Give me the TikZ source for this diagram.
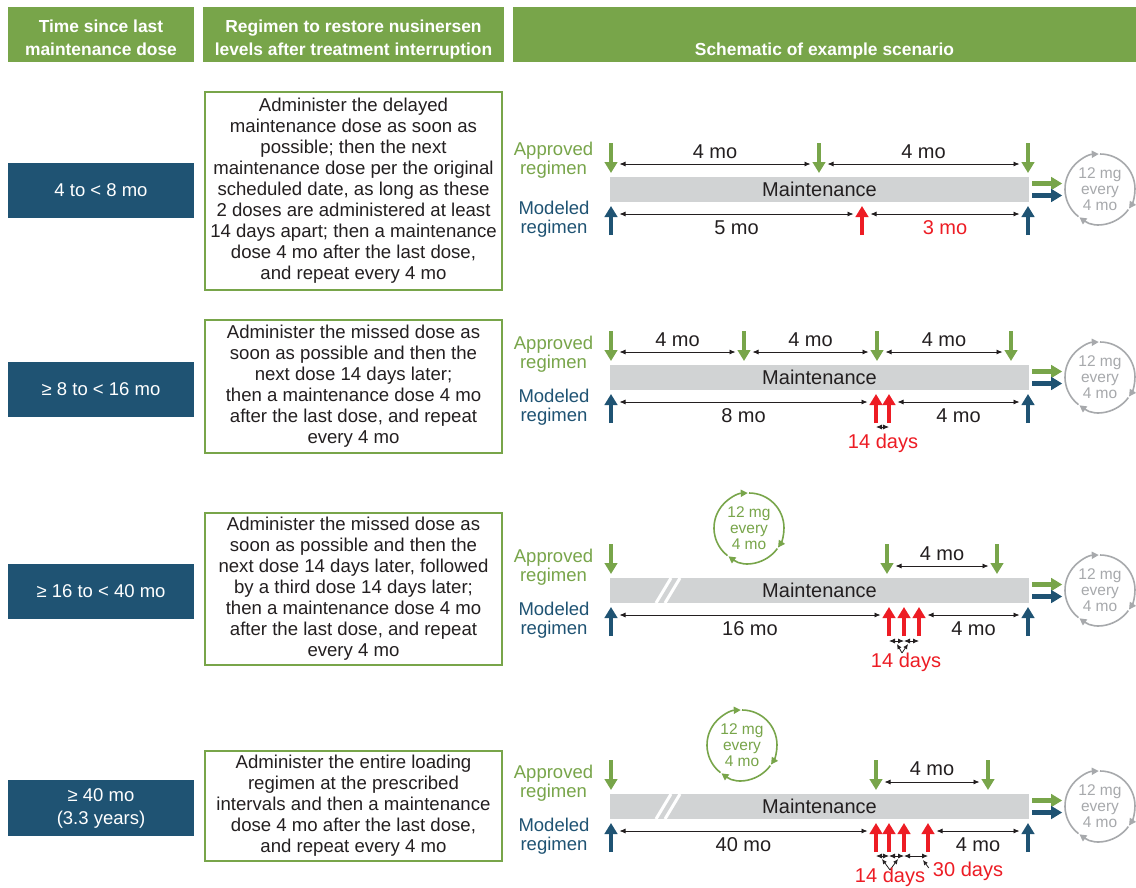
\documentclass[tikz,border=0pt]{standalone}
\usepackage{fontspec}
\setmainfont{Liberation Sans}
\usetikzlibrary{arrows.meta, positioning}
\definecolor{hdgreen}{HTML}{78A54A}
\definecolor{tblue}{HTML}{1F5373}
\definecolor{bargray}{HTML}{D1D3D4}
\definecolor{dosered}{HTML}{ED1C24}
\definecolor{cycgray}{HTML}{A7A9AC}
\definecolor{inkblack}{HTML}{231F20}

\tikzset{
  pics/cycle/.style={code={
    \begin{scope}[y=1pt, line width=1.6pt, color=#1, -{Triangle[length=7pt,width=7pt]}]
      \draw (232:35) arc[start angle=232, end angle=92, radius=35];
      \draw (90:35) arc[start angle=90, end angle=-34, radius=35];
      \draw (-36:35) arc[start angle=-36, end angle=-126, radius=35];
    \end{scope}
    \node[cyctext, text=#1] (-txt) {12 mg\\every\\4 mo};
  }}
}

\begin{document}
\begin{tikzpicture}[x=1pt, y=-1pt,
  head/.style={fill=hdgreen, text=white, font=\fontsize{17.4}{23}\selectfont\bfseries, align=center, inner sep=0pt, minimum height=55pt, text height=41pt, text depth=0pt},
  timebox/.style={fill=tblue, text=white, font=\fontsize{18.5}{23}\selectfont, align=center, minimum width=186pt, minimum height=55pt, inner sep=0pt},
  stepbox/.style={draw=hdgreen, line width=2.2pt, fill=white, text=inkblack, font=\fontsize{18.6}{21}\selectfont, align=center, minimum width=297pt, inner sep=0pt},
  bar/.style={fill=bargray, text=inkblack, font=\fontsize{20}{24}\selectfont, minimum width=419pt, minimum height=25pt, inner sep=0pt},
  regtext/.style={font=\fontsize{18.5}{19}\selectfont, align=center, inner sep=0pt},
  dose/.style={line width=4.5pt, -{Triangle[length=11pt,width=12.5pt]}},
  dim/.style={draw=inkblack, line width=0.8pt, <->, >={Latex[length=6pt,width=5pt]}, shorten <=8.5pt, shorten >=8.5pt},
  gap/.style={dim, shorten <=0pt, shorten >=0pt},
  point/.style={draw=inkblack, line width=0.8pt, ->, >={Latex[length=5pt,width=4.5pt]}},
  lab/.style={font=\fontsize{20}{24}\selectfont, text=inkblack, inner sep=0pt},
  cyctext/.style={font=\fontsize{15.5}{16.3}\selectfont, align=center, inner sep=0pt}
]
\useasboundingbox[fill=white] (0,0) rectangle (1136,887);

% column heads
\node[head, minimum width=186pt] (h1) at (101,34.5) {Time since last\\maintenance dose};
\node[head, minimum width=301pt] (h2) at (353.5,34.5) {Regimen to restore nusinersen\\levels after treatment interruption};
\node[head, minimum width=623pt] (h3) at (824.5,34.5) {\vphantom{Ty}\\Schematic of example scenario};

% time since last dose
\node[timebox] (t1) at (101,190.5) {4 to < 8 mo};
\node[timebox] (t2) at (101,389) {≥ 8 to < 16 mo};
\node[timebox] (t3) at (101,591.5) {≥ 16 to < 40 mo};
\node[timebox, minimum height=56pt] (t4) at (101,808) {≥ 40 mo\\(3.3 years)};

% regimens
\node[stepbox, minimum height=198pt] (s1) at (353.5,191) {Administer the delayed\\maintenance dose as soon as\\possible; then the next\\maintenance dose per the original\\scheduled date, as long as these\\2 doses are administered at least\\14 days apart; then a maintenance\\dose 4 mo after the last dose,\\and repeat every 4 mo};
\node[stepbox, minimum height=133pt] (s2) at (353.5,386.5) {Administer the missed dose as\\soon as possible and then the\\next dose 14 days later;\\then a maintenance dose 4 mo\\after the last dose, and repeat\\every 4 mo};
\node[stepbox, minimum height=152pt] (s3) at (353.5,589) {Administer the missed dose as\\soon as possible and then the\\next dose 14 days later, followed\\by a third dose 14 days later;\\then a maintenance dose 4 mo\\after the last dose, and repeat\\every 4 mo};
\node[stepbox, minimum height=110pt] (s4) at (353.5,806) {Administer the entire loading\\regimen at the prescribed\\intervals and then a maintenance\\dose 4 mo after the last dose,\\and repeat every 4 mo};

% scenario 1
\begin{scope}[shift={(0,177)}]
  \node[regtext, text=hdgreen] (ap1) at (553.5,-17) {Approved\\regimen};
  \node[regtext, text=tblue] (mo1) at (554,42) {Modeled\\regimen};
  \node[bar] (bar1) at (819.5,12.5) {Maintenance};
  \foreach \x [count=\i] in {611,819,1028} {
    \draw[dose, hdgreen] (\x,-34) -- (\x,-4);
    \coordinate (ua\i) at (\x,-13);
  }
  \draw[dim] (ua1) -- node[lab, yshift=12pt] (la1) {4 mo} (ua2);
  \draw[dim] (ua2) -- node[lab, yshift=12pt] (la2) {4 mo} (ua3);
  \foreach \x [count=\i] in {611,862,1028}
    \coordinate (da\i) at (\x,37);
  \draw[dose, tblue] (611,58) -- (611,29);
  \draw[dose, tblue] (1028,58) -- (1028,29);
  \draw[dose, dosered] (862,58) -- (862,29);
  \draw[dim] (da1) -- node[lab, yshift=-13.5pt] (lb1) {5 mo} (da2);
  \draw[dim] (da2) -- node[lab, yshift=-13.5pt, text=dosered] (lb2) {3 mo} (da3);
  \draw[dose, hdgreen, line width=5pt] ([xshift=3pt, yshift=6pt]bar1.east) -- ++(30,0);
  \draw[dose, tblue, line width=5pt] ([xshift=3pt, yshift=-6pt]bar1.east) -- ++(30,0);
  \pic (ca) at (1100,12) {cycle=cycgray};
\end{scope}

% scenario 2
\begin{scope}[shift={(0,365)}]
  \node[regtext, text=hdgreen] (ap2) at (553.5,-10.5) {Approved\\regimen};
  \node[regtext, text=tblue] (mo2) at (554,42) {Modeled\\regimen};
  \node[bar] (bar2) at (819.5,12.5) {Maintenance};
  \foreach \x [count=\i] in {611,744,877,1011} {
    \draw[dose, hdgreen] (\x,-34) -- (\x,-4);
    \coordinate (ub\i) at (\x,-13);
  }
  \draw[dim] (ub1) -- node[lab, yshift=12pt] (lc1) {4 mo} (ub2);
  \draw[dim] (ub2) -- node[lab, yshift=12pt] (lc2) {4 mo} (ub3);
  \draw[dim] (ub3) -- node[lab, yshift=12pt] (lc3) {4 mo} (ub4);
  \draw[dose, tblue] (611,58) -- (611,29);
  \draw[dose, tblue] (1028,58) -- (1028,29);
  \foreach \x [count=\i] in {876,889} {
    \draw[dose, dosered] (\x,58) -- (\x,29);
    \coordinate (gb\i) at (\x,62);
  }
  \coordinate (db1) at (611,37);
  \coordinate (db2) at (876,37);
  \coordinate (db3) at (889,37);
  \coordinate (db4) at (1028,37);
  \draw[dim] (db1) -- node[lab, yshift=-13.5pt] (ld1) {8 mo} (db2);
  \draw[dim] (db3) -- node[lab, yshift=-13.5pt] (ld2) {4 mo} (db4);
  \draw[gap] (gb1) -- (gb2);
  \node[lab, text=dosered] (nb) at (883,78) {14 days};
  \draw[dose, hdgreen, line width=5pt] ([xshift=3pt, yshift=6pt]bar2.east) -- ++(30,0);
  \draw[dose, tblue, line width=5pt] ([xshift=3pt, yshift=-6pt]bar2.east) -- ++(30,0);
  \pic (cb) at (1100,12) {cycle=cycgray};
\end{scope}

% scenario 3
\begin{scope}[shift={(0,578)}]
  \pic (cc0) at (749,-50) {cycle=hdgreen};
  \node[regtext, text=hdgreen] (ap3) at (553.5,-10.5) {Approved\\regimen};
  \node[regtext, text=tblue] (mo3) at (554,42) {Modeled\\regimen};
  \node[bar] (bar3) at (819.5,12.5) {Maintenance};
  \draw[white, line width=3pt] (656,25) -- (671,0) (665,25) -- (680,0);
  \foreach \x [count=\i] in {611,887,997} {
    \draw[dose, hdgreen] (\x,-34) -- (\x,-4);
    \coordinate (uc\i) at (\x,-12);
  }
  \draw[dim] (uc2) -- node[lab, yshift=12pt] (le1) {4 mo} (uc3);
  \draw[dose, tblue] (611,58) -- (611,29);
  \draw[dose, tblue] (1028,58) -- (1028,29);
  \foreach \x [count=\i] in {889,904,919} {
    \draw[dose, dosered] (\x,58) -- (\x,29);
    \coordinate (gc\i) at (\x,63);
  }
  \coordinate (dc1) at (611,37);
  \coordinate (dc2) at (889,37);
  \coordinate (dc3) at (919,37);
  \coordinate (dc4) at (1028,37);
  \draw[dim] (dc1) -- node[lab, yshift=-13.5pt] (lf1) {16 mo} (dc2);
  \draw[dim] (dc3) -- node[lab, yshift=-13.5pt] (lf2) {4 mo} (dc4);
  \draw[gap] (gc1) -- (gc2);
  \draw[gap] (gc2) -- (gc3);
  \coordinate (vc) at (902,75);
  \draw[point] (vc) -- (897,66);
  \draw[point] (vc) -- (908,66);
  \node[lab, text=dosered] (nc) at (906,84) {14 days};
  \draw[dose, hdgreen, line width=5pt] ([xshift=3pt, yshift=6pt]bar3.east) -- ++(30,0);
  \draw[dose, tblue, line width=5pt] ([xshift=3pt, yshift=-6pt]bar3.east) -- ++(30,0);
  \pic (cc) at (1100,12) {cycle=cycgray};
\end{scope}

% scenario 4
\begin{scope}[shift={(0,794)}]
  \pic (cd0) at (742,-49) {cycle=hdgreen};
  \node[regtext, text=hdgreen] (ap4) at (553.5,-10.5) {Approved\\regimen};
  \node[regtext, text=tblue] (mo4) at (554,42) {Modeled\\regimen};
  \node[bar] (bar4) at (819.5,12.5) {Maintenance};
  \draw[white, line width=3pt] (656,25) -- (671,0) (665,25) -- (680,0);
  \foreach \x [count=\i] in {611,876,988} {
    \draw[dose, hdgreen] (\x,-34) -- (\x,-4);
    \coordinate (ud\i) at (\x,-12);
  }
  \draw[dim] (ud2) -- node[lab, yshift=13pt] (lg1) {4 mo} (ud3);
  \draw[dose, tblue] (611,58) -- (611,29);
  \draw[dose, tblue] (1028,58) -- (1028,29);
  \foreach \x [count=\i] in {876,889,904,928} {
    \draw[dose, dosered] (\x,58) -- (\x,29);
    \coordinate (gd\i) at (\x,62);
  }
  \coordinate (dd1) at (611,37);
  \coordinate (dd2) at (876,37);
  \coordinate (dd3) at (928,37);
  \coordinate (dd4) at (1028,37);
  \draw[dim] (dd1) -- node[lab, yshift=-13.5pt] (lh1) {40 mo} (dd2);
  \draw[dim] (dd3) -- node[lab, yshift=-13.5pt] (lh2) {4 mo} (dd4);
  \draw[gap] (gd1) -- (gd2);
  \draw[gap] (gd2) -- (gd3);
  \draw[gap] (gd3) -- (gd4);
  \coordinate (vd) at (890,76);
  \draw[point] (vd) -- (882,65);
  \draw[point] (vd) -- (898,65);
  \node[lab, text=dosered] (nd1) at (890,83) {14 days};
  \node[lab, text=dosered] (nd2) at (968,77) {30 days};
  \draw[point] (nd2.west) ++(-4,-3) coordinate (pd) (pd) -- (923,66);
  \draw[dose, hdgreen, line width=5pt] ([xshift=3pt, yshift=6pt]bar4.east) -- ++(30,0);
  \draw[dose, tblue, line width=5pt] ([xshift=3pt, yshift=-6pt]bar4.east) -- ++(30,0);
  \pic (cd) at (1100,12) {cycle=cycgray};
\end{scope}
\end{tikzpicture}
\end{document}
